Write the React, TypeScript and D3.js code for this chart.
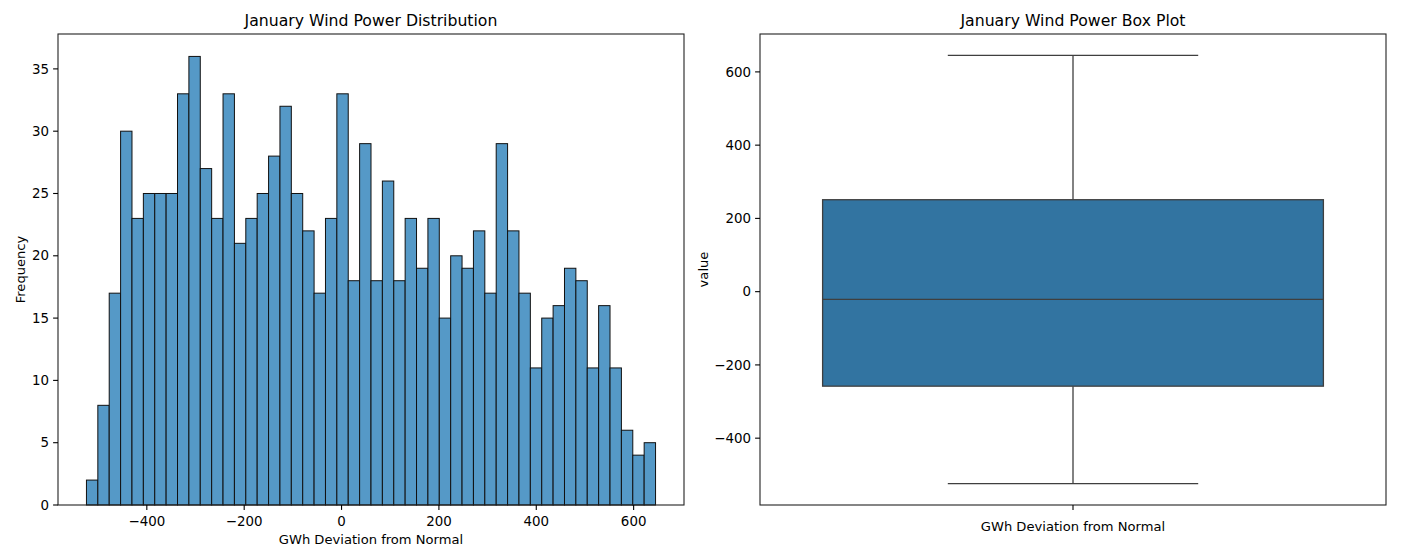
import { scaleLinear } from "d3";

// Histogram: bin counts across the observed deviation range
const binMin = -524;
const binMax = 645;
const counts = [
  2, 8, 17, 30, 23, 25, 25, 25, 33, 36, 27, 23, 33, 21, 23, 25, 28, 32, 25, 22,
  17, 23, 33, 18, 29, 18, 26, 18, 23, 19, 23, 15, 20, 19, 22, 17, 29, 22, 17, 11,
  15, 16, 19, 18, 11, 16, 11, 6, 4, 5,
];
const histXTicks = [-400, -200, 0, 200, 400, 600];
const histYTicks = [0, 5, 10, 15, 20, 25, 30, 35];

// Box plot summary
const boxStats = { low: -524, q1: -258, median: -21, q3: 251, high: 645 };
const boxYTicks = [-400, -200, 0, 200, 400, 600];

const W = 1401;
const H = 560;
const top = 34;
const bottom = 505;
const FONT = "DejaVu Sans, sans-serif";
const tickSize = 13.4;
const labelSize = 13.1;
const titleSize = 15.7;

function Frame({ x0, x1 }: { x0: number; x1: number }) {
  return (
    <rect
      x={x0}
      y={top}
      width={x1 - x0}
      height={bottom - top}
      fill="none"
      stroke="#222"
      strokeWidth={1.1}
    />
  );
}

export default function App() {
  // Left panel
  const hx0 = 58;
  const hx1 = 684;
  const pad = (binMax - binMin) * 0.05;
  const xScale = scaleLinear().domain([binMin - pad, binMax + pad]).range([hx0, hx1]);
  const yMax = Math.max(...counts) * 1.05;
  const yScale = scaleLinear().domain([0, yMax]).range([bottom, top]);
  const binW = (binMax - binMin) / counts.length;

  // Right panel
  const bx0 = 760;
  const bx1 = 1386;
  const bxScale = scaleLinear().domain([-0.5, 0.5]).range([bx0, bx1]);
  const bpad = (boxStats.high - boxStats.low) * 0.05;
  const byScale = scaleLinear()
    .domain([boxStats.low - bpad, boxStats.high + bpad])
    .range([bottom, top]);
  const cx = bxScale(0);

  return (
    <div style={{ position: "absolute", left: 0, top: 0 }}>
      <svg width={W} height={H} style={{ display: "block", background: "#fff" }} fontFamily={FONT}>
        {/* Histogram bars */}
        {counts.map((c, i) => {
          const a = xScale(binMin + i * binW);
          const b = xScale(binMin + (i + 1) * binW);
          return (
            <rect
              key={i}
              x={a}
              y={yScale(c)}
              width={b - a}
              height={yScale(0) - yScale(c)}
              fill="#5599c7"
              stroke="#111"
              strokeWidth={1}
            />
          );
        })}
        <Frame x0={hx0} x1={hx1} />
        {histXTicks.map((t) => (
          <g key={t} transform={`translate(${xScale(t)},${bottom})`}>
            <line y2={4.9} stroke="#000" strokeWidth={1.1} />
            <text y={21} textAnchor="middle" fontSize={tickSize} fill="#000">
              {t < 0 ? `\u2212${-t}` : t}
            </text>
          </g>
        ))}
        {histYTicks.map((t) => (
          <g key={t} transform={`translate(${hx0},${yScale(t)})`}>
            <line x2={-4.9} stroke="#000" strokeWidth={1.1} />
            <text x={-9} dy="0.35em" textAnchor="end" fontSize={tickSize} fill="#000">
              {t}
            </text>
          </g>
        ))}
        <text x={(hx0 + hx1) / 2} y={544} textAnchor="middle" fontSize={labelSize}>
          GWh Deviation from Normal
        </text>
        <text
          transform={`translate(25,${(top + bottom) / 2}) rotate(-90)`}
          textAnchor="middle"
          fontSize={labelSize}
        >
          Frequency
        </text>
        <text x={(hx0 + hx1) / 2} y={26} textAnchor="middle" fontSize={titleSize}>
          January Wind Power Distribution
        </text>

        {/* Box plot */}
        <line x1={cx} x2={cx} y1={byScale(boxStats.high)} y2={byScale(boxStats.q3)} stroke="#3f3f3f" strokeWidth={1.3} />
        <line x1={cx} x2={cx} y1={byScale(boxStats.q1)} y2={byScale(boxStats.low)} stroke="#3f3f3f" strokeWidth={1.3} />
        <line x1={bxScale(-0.2)} x2={bxScale(0.2)} y1={byScale(boxStats.high)} y2={byScale(boxStats.high)} stroke="#3f3f3f" strokeWidth={1.3} />
        <line x1={bxScale(-0.2)} x2={bxScale(0.2)} y1={byScale(boxStats.low)} y2={byScale(boxStats.low)} stroke="#3f3f3f" strokeWidth={1.3} />
        <rect
          x={bxScale(-0.4)}
          y={byScale(boxStats.q3)}
          width={bxScale(0.4) - bxScale(-0.4)}
          height={byScale(boxStats.q1) - byScale(boxStats.q3)}
          fill="#3274a1"
          stroke="#3f3f3f"
          strokeWidth={1.3}
        />
        <line x1={bxScale(-0.4)} x2={bxScale(0.4)} y1={byScale(boxStats.median)} y2={byScale(boxStats.median)} stroke="#3f3f3f" strokeWidth={1.3} />
        <Frame x0={bx0} x1={bx1} />
        {boxYTicks.map((t) => (
          <g key={t} transform={`translate(${bx0},${byScale(t)})`}>
            <line x2={-4.9} stroke="#000" strokeWidth={1.1} />
            <text x={-9} dy="0.35em" textAnchor="end" fontSize={tickSize} fill="#000">
              {t < 0 ? `\u2212${-t}` : t}
            </text>
          </g>
        ))}
        <line x1={cx} x2={cx} y1={bottom} y2={bottom + 4.9} stroke="#000" strokeWidth={1.1} />
        <text x={cx} y={531} textAnchor="middle" fontSize={labelSize}>
          GWh Deviation from Normal
        </text>
        <text
          transform={`translate(708,${(top + bottom) / 2}) rotate(-90)`}
          textAnchor="middle"
          fontSize={labelSize}
        >
          value
        </text>
        <text x={(bx0 + bx1) / 2} y={26} textAnchor="middle" fontSize={titleSize}>
          January Wind Power Box Plot
        </text>
      </svg>
    </div>
  );
}
